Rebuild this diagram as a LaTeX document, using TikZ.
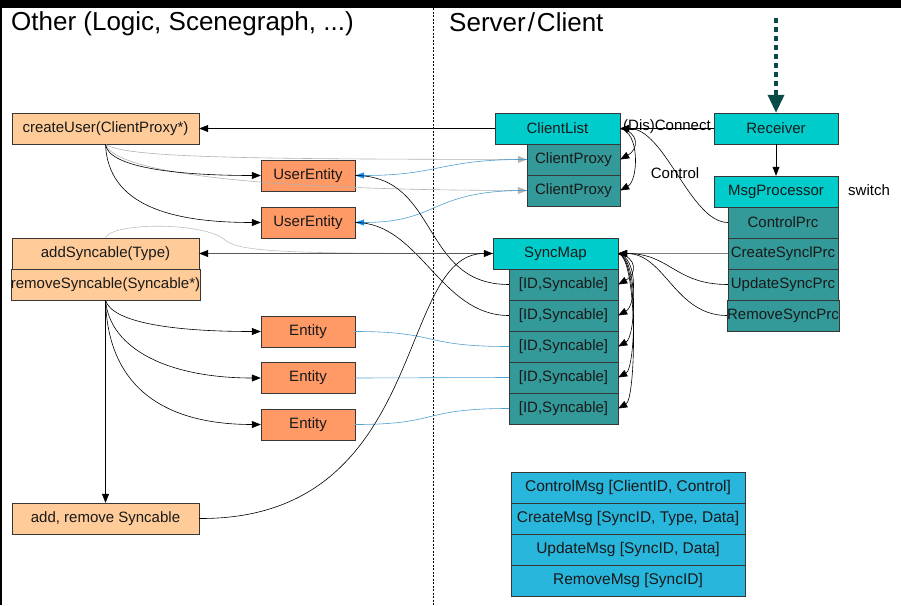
\documentclass[tikz,border=0pt]{standalone}
\usepackage{fontspec}
\setmainfont{Liberation Sans}
\usetikzlibrary{arrows.meta}
\definecolor{peach}{RGB}{255,204,153}
\definecolor{salmon}{RGB}{255,153,102}
\definecolor{cyanbox}{RGB}{0,204,204}
\definecolor{tealbox}{RGB}{51,153,153}
\definecolor{msgblue}{RGB}{41,182,220}
\definecolor{edgegray}{RGB}{55,55,55}
\definecolor{linkblue}{RGB}{80,160,210}
\definecolor{tipblue}{RGB}{20,140,240}
\definecolor{darkteal}{RGB}{10,75,72}
\begin{document}
\begin{tikzpicture}[x=1pt,y=-1pt,>={Triangle[length=9pt,width=7pt]},
		box/.style={draw=edgegray,inner sep=0pt,minimum height=31pt,text=black!90,font=\fontsize{15}{18}\selectfont},
		other/.style={box,fill=peach,minimum width=187pt},
		ent/.style={box,fill=salmon,minimum width=94pt},
		head/.style={box,fill=cyanbox},
		part/.style={box,fill=tealbox},
		msg/.style={box,fill=msgblue,minimum width=234pt,font=\fontsize{15.5}{18}\selectfont},
		lbl/.style={inner sep=0pt,font=\fontsize{15}{18}\selectfont},
		title/.style={inner sep=0pt,anchor=west,font=\fontsize{26}{30}\selectfont},
		link/.style={line width=0.6pt,->},
		graylink/.style={line width=0.6pt,gray!60,->},
		bluelink/.style={line width=0.6pt,linkblue,-{Triangle[length=9pt,width=6pt,color=tipblue]}},
		blueline/.style={line width=0.6pt,linkblue}]
		\useasboundingbox (0,0) rectangle (901,605);
		\fill[black] (0,0) rectangle (901,8);
		\fill[black] (0,0) rectangle (2,605);
		\draw[line width=0.5pt,dash pattern=on 2pt off 1.5pt] (433,8) -- (433,605);
		\node[title] (tother) at (11,24) {Other (Logic, Scenegraph, ...)};
		\node[title] (tserver) at (449,22) {Server\kern2pt/\kern2pt Client};
		% left side
		\node[other] (cu) at (105.5,128.5) {createUser(ClientProxy*)};
		\node[ent] (ue1) at (308,175.5) {UserEntity};
		\node[ent] (ue2) at (308,222.5) {UserEntity};
		\node[other] (adds) at (105.5,253.5) {addSyncable(Type)};
		\node[other] (rems) at (105.5,284.5) {removeSyncable(Syncable*)};
		\node[ent] (en1) at (308,331.5) {Entity};
		\node[ent] (en2) at (308,378) {Entity};
		\node[ent] (en3) at (308,424.5) {Entity};
		\node[other] (addrem) at (105.5,518.5) {add, remove Syncable};
		% right side
		\node[head,minimum width=125pt] (clist) at (557.5,128.5) {ClientList};
		\node[part,minimum width=93pt] (cp1) at (573.5,159.5) {ClientProxy};
		\node[part,minimum width=93pt] (cp2) at (573.5,190.5) {ClientProxy};
		\node[head,minimum width=124pt] (recv) at (776,128.5) {Receiver};
		\node[head,minimum width=124pt] (msgp) at (776,191.5) {MsgProcessor};
		\node[part,minimum width=110pt] (ctrl) at (783,222.5) {ControlPrc};
		\node[part,minimum width=110pt] (create) at (783,253.5) {CreateSynclPrc};
		\node[part,minimum width=110pt] (update) at (783,284.5) {UpdateSyncPrc};
		\node[part,minimum width=110pt] (remove) at (783,315.5) {RemoveSyncPrc};
		\node[head,minimum width=125pt] (smap) at (555.5,253.5) {SyncMap};
		\foreach \i in {1,...,5}
			\node[part,minimum width=109pt] (id\i) at (563.5,{253.5+31*\i}) {[ID,Syncable]};
		\node[msg] (m1) at (628,487.5) {ControlMsg [ClientID, Control]};
		\node[msg] (m2) at (628,518.5) {CreateMsg [SyncID, Type, Data]};
		\node[msg] (m3) at (628,549.5) {UpdateMsg [SyncID, Data]};
		\node[msg] (m4) at (628,580.5) {RemoveMsg [SyncID]};
		\node[lbl] (dis) at (667,127) {(Dis)Connect};
		\node[lbl] (ctl) at (675,173) {Control};
		\node[lbl] (sw) at (869,190) {switch};
		\coordinate (net) at (776,18);
		% connectors
		\draw[darkteal,line width=3.5pt,dash pattern=on 5pt off 4pt,-{Triangle[length=18pt,width=16pt]}] (net) -- (recv.north);
		\draw[link] (recv.south) -- (msgp.north);
		\draw[link] (recv.west) -- (clist.east);
		\draw[link] (clist.west) -- (cu.east);
		\draw[link] (ctrl.west) .. controls (690,222) and (665,128) .. (clist.east);
		\foreach \i in {1,2}
			\draw[link] (clist.east) .. controls +(20,4) and +(18,-10) .. (cp\i.east);
		\draw[graylink] (cu.south) .. controls (125,158) and (250,159) .. (cp1.west);
		\draw[graylink] (cu.south) .. controls (115,172) and (250,190) .. (cp2.west);
		\draw[link] (cu.south) .. controls (108,168) and (180,175.5) .. (ue1.west);
		\draw[link] (cu.south) .. controls (108,205) and (170,222.5) .. (ue2.west);
		\draw[bluelink] (cp1.west) .. controls (440,159) and (440,175.5) .. (ue1.east);
		\draw[bluelink] (cp2.west) .. controls (430,190) and (440,222.5) .. (ue2.east);
		\draw[line width=0.6pt] (ue1.east) .. controls (440,176) and (420,284.5) .. (id1.west);
		\draw[line width=0.6pt] (ue2.east) .. controls (420,222.5) and (440,315.5) .. (id2.west);
		\draw[line width=0.6pt,gray!50] (adds.north) .. controls (112,222) and (205,222) .. (225,240) .. controls (240,253) and (300,253.5) .. (smap.west);
		\draw[line width=0.6pt,black!65,-{Triangle[length=9pt,width=7pt,color=black]}] (smap.west) -- (adds.east);
		\draw[link] (rems.south) .. controls (112,322) and (170,331.5) .. (en1.west);
		\draw[link] (rems.south) .. controls (110,350) and (170,378) .. (en2.west);
		\draw[link] (rems.south) .. controls (108,392) and (170,424.5) .. (en3.west);
		\draw[link] (rems.south) -- (addrem.north);
		\draw[blueline] (en1.east) .. controls (440,331.5) and (420,346.5) .. (id3.west);
		\draw[blueline] (en2.east) -- (id4.west);
		\draw[blueline] (en3.east) .. controls (440,424.5) and (420,408.5) .. (id5.west);
		\draw[link] (addrem.east) .. controls (430,520) and (395,253.5) .. (smap.west);
		\foreach \i in {1,...,5}
			\draw[link] (smap.east) .. controls +(20,4) and +(18,-10) .. (id\i.east);
		\draw[line width=0.6pt,black!50,-{Triangle[length=9pt,width=7pt,color=black]}] (create.west) -- (smap.east);
		\draw[link] (update.west) .. controls (675,284.5) and (670,253.5) .. (smap.east);
		\draw[link] (remove.west) .. controls (675,315.5) and (665,253.5) .. (smap.east);
\end{tikzpicture}
\end{document}
